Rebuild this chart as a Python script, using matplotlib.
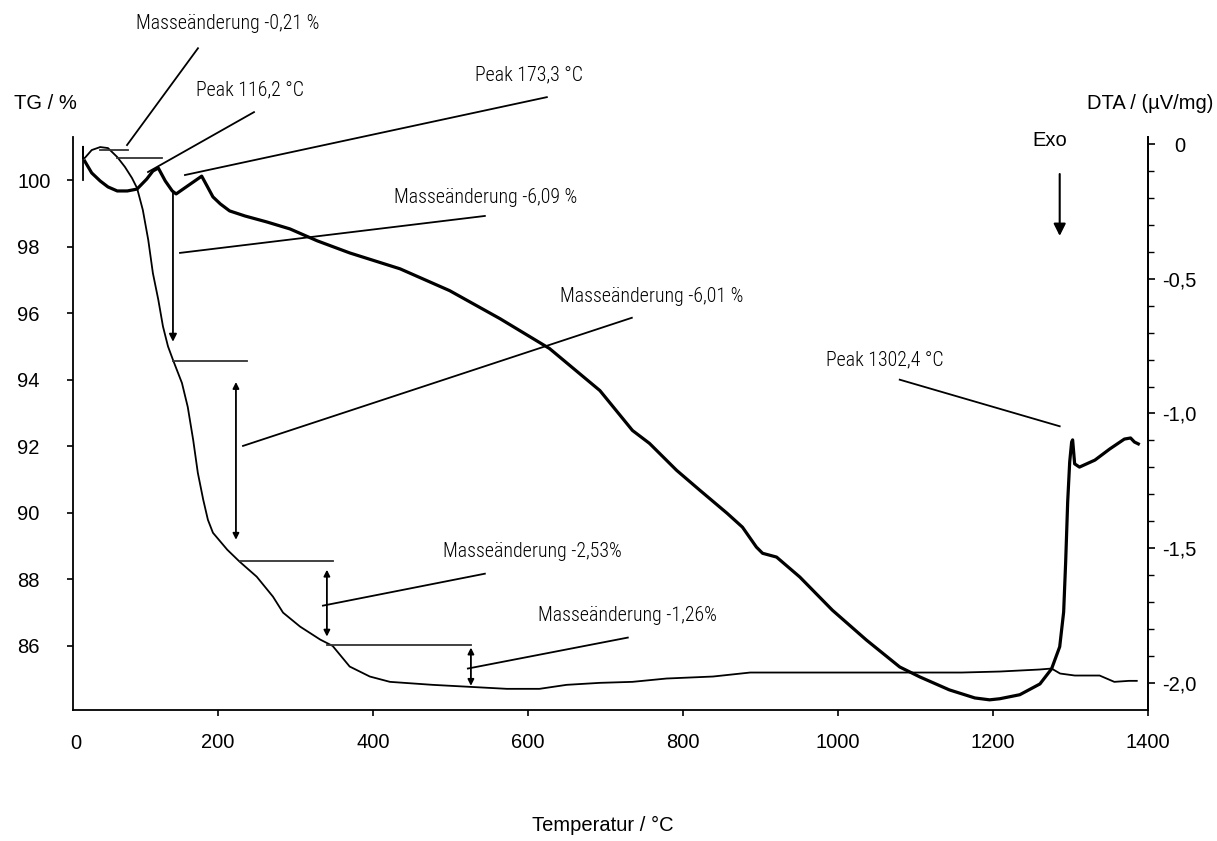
"""TG / DTA curve with mass-change annotations"""

import matplotlib
matplotlib.use("Agg")
import matplotlib.pyplot as plt
from matplotlib import font_manager

plt.rcParams["font.family"] = ["Liberation Sans", "DejaVu Sans"]

# narrow font for the annotation texts, first one that is installed
names = {f.name for f in font_manager.fontManager.ttflist}
NARROW = dict(family=["DejaVu Sans"], stretch="condensed")
for cand in ["Liberation Sans Narrow", "Roboto Condensed", "Arial Narrow",
             "Noto Sans Condensed", "Open Sans Condensed"]:
    if cand in names:
        NARROW = dict(family=[cand, "DejaVu Sans"], weight="light")
        break

# TG curve (temperature in degC, mass in %)
tg_temp = [25.8, 25.8, 25.8, 28, 37, 48, 58, 70, 80, 89, 95.5, 103, 110, 116,
           123, 129, 135.5, 142, 153.5, 161, 168, 174, 181, 187, 193.5, 212,
           228, 250, 271, 284, 306, 332, 348, 370, 396, 422, 477, 525, 573,
           615, 650, 693, 735, 779, 839, 887, 1000, 1100, 1160, 1209, 1260,
           1276, 1287, 1306, 1338, 1357, 1376, 1386]
tg_mass = [100.0, 101.0, 100.66, 100.66, 100.9, 100.99, 100.96, 100.69, 100.39,
           100.06, 99.76, 99.1, 98.2, 97.2, 96.4, 95.6, 95.0, 94.59, 93.9, 93.18,
           92.19, 91.2, 90.39, 89.79, 89.4, 88.89, 88.53, 88.08, 87.48, 87.0,
           86.58, 86.19, 86.0, 85.38, 85.08, 84.92, 84.83, 84.77, 84.71, 84.71,
           84.83, 84.89, 84.92, 85.02, 85.08, 85.2, 85.2, 85.2, 85.2, 85.23,
           85.29, 85.32, 85.17, 85.11, 85.11, 84.92, 84.95, 84.95]

# DTA curve (uV/mg)
dta_temp = [28, 37, 48, 58, 70, 83, 95.5, 108, 116, 123, 132, 141, 146, 157,
            170, 179, 186, 193.5, 203, 215, 235, 263, 293, 328, 370, 435, 499,
            564, 628, 693, 735, 757, 792, 822, 857, 877, 895, 903, 921, 951,
            993, 1037, 1080, 1106, 1144, 1177, 1196, 1209, 1235, 1261, 1276,
            1286.5, 1291.6, 1294.2, 1296.8, 1299.4, 1301.9, 1303.2, 1305.8,
            1312, 1332, 1351, 1370, 1378, 1383, 1388]
dta_val = [-0.063, -0.107, -0.137, -0.159, -0.174, -0.174, -0.167, -0.13, -0.1,
           -0.089, -0.137, -0.174, -0.185, -0.163, -0.137, -0.119, -0.156,
           -0.196, -0.222, -0.248, -0.267, -0.289, -0.315, -0.359, -0.404,
           -0.463, -0.544, -0.648, -0.759, -0.915, -1.063, -1.111, -1.211,
           -1.285, -1.37, -1.422, -1.496, -1.519, -1.533, -1.607, -1.73, -1.841,
           -1.941, -1.978, -2.026, -2.056, -2.063, -2.059, -2.044, -2.004,
           -1.948, -1.866, -1.737, -1.551, -1.328, -1.18, -1.106, -1.098,
           -1.187, -1.199, -1.173, -1.132, -1.095, -1.091, -1.106, -1.113]

# reference levels of the mass steps (TG %)
step_levels = [100.66, 94.56, 88.56, 86.04, 84.77]
step_labels = ["Masseänderung -0,21 %", "Masseänderung -6,09 %",
               "Masseänderung -6,01 %", "Masseänderung -2,53%",
               "Masseänderung -1,26%"]
peak_labels = ["Peak 116,2 °C", "Peak 173,3 °C", "Peak 1302,4 °C"]

x_ticks = [200, 400, 600, 800, 1000, 1200, 1400]
tg_ticks = [86, 88, 90, 92, 94, 96, 98, 100]
dta_ticks = [0, -0.5, -1.0, -1.5, -2.0]
dta_ticklabels = ["0", "-0,5", "-1,0", "-1,5", "-2,0"]

fig = plt.figure(figsize=(12.17, 8.41), dpi=100)
ax = fig.add_axes([0.060, 0.156, 0.883, 0.681])
ax2 = ax.twinx()

# size the narrow annotation font so the labels get about their original width
probe = fig.text(0, 0, step_labels[0], fontsize=14, **NARROW)
probe_w = probe.get_window_extent(fig.canvas.get_renderer()).width
probe.remove()
ann_size = min(15.0, 14 * 184 / probe_w)

ax.plot(tg_temp, tg_mass, color="black", lw=1.3)
ax2.plot(dta_temp, dta_val, color="black", lw=2.3)

ax.set_xlim(12.9, 1400)
ax.set_ylim(84.08, 101.29)
ax2.set_ylim(-2.1, 0.026)

for a in (ax, ax2):
    a.spines["top"].set_visible(False)
    a.spines["left"].set_linewidth(1.3)
    a.spines["right"].set_linewidth(1.3)
    a.spines["bottom"].set_linewidth(1.3)
ax2.spines["left"].set_visible(False)
ax2.spines["bottom"].set_visible(False)

ax.set_xticks(x_ticks)
ax.set_xticklabels([str(v) for v in x_ticks])
ax.set_yticks(tg_ticks)
ax.set_yticklabels([str(v) for v in tg_ticks])
ax2.set_yticks(dta_ticks)
ax2.set_yticklabels(dta_ticklabels)
ax2.set_yticks([-0.1, -0.2, -0.3, -0.4, -0.6, -0.7, -0.8, -0.9, -1.1, -1.2,
                -1.3, -1.4, -1.6, -1.7, -1.8, -1.9], minor=True)

ax.tick_params(axis="x", direction="out", length=4, width=1.2, pad=13,
               labelsize=14.5)
ax.tick_params(axis="y", direction="out", length=4, width=1.2, pad=36,
               labelsize=14.5)
for lab in ax.get_yticklabels():
    lab.set_horizontalalignment("left")
ax2.tick_params(axis="y", which="major", direction="out", length=5, width=1.2,
                pad=18, labelsize=14.5)
ax2.tick_params(axis="y", which="minor", direction="out", length=4, width=1.0)
for lab in ax2.get_yticklabels():
    lab.set_horizontalalignment("center")

# "0" of the temperature axis sits left of the axis start
ax.text(0.003, -0.043, "0", transform=ax.transAxes, ha="center", va="top",
        fontsize=14.5)

fig.text(0.037, 0.877, "TG / %", ha="center", va="center", fontsize=14.5)
fig.text(0.997, 0.877, "DTA / (µV/mg)", ha="right", va="center",
         fontsize=14.5)
fig.text(0.495, 0.019, "Temperatur / °C", ha="center", va="center",
         fontsize=14.5)

line_kw = dict(color="black", lw=1.3, clip_on=False)
thin_kw = dict(color="#333333", lw=1.3, clip_on=False)

# reference levels of the mass steps
ax.plot([47.7, 83.9], [100.9, 100.9], **thin_kw)
ax.plot([69.7, 127.7], [step_levels[0], step_levels[0]], **thin_kw)
ax.plot([141.9, 237.4], [step_levels[1], step_levels[1]], **thin_kw)
ax.plot([228.4, 348.4], [step_levels[2], step_levels[2]], **thin_kw)
ax.plot([340.6, 526.5], [step_levels[3], step_levels[3]], **thin_kw)

# arrows for the mass steps
ax.annotate("", xy=(141.9, 95.14), xytext=(141.9, 99.61),
            arrowprops=dict(arrowstyle="-|>", color="black", lw=1.3,
                            mutation_scale=11, shrinkA=0, shrinkB=0))
for x, top, bottom in [(223.2, 93.93, 89.19), (340.6, 88.29, 86.28),
                       (526.5, 85.95, 84.80)]:
    ax.annotate("", xy=(x, bottom), xytext=(x, top),
                arrowprops=dict(arrowstyle="<|-|>", color="black", lw=1.3,
                                mutation_scale=9, shrinkA=0, shrinkB=0))

# leader lines
ax.plot([82.6, 174.2], [101.05, 103.96], **line_kw)
ax.plot([109.7, 246.5], [100.24, 102.04], **line_kw)
ax.plot([157.4, 624.5], [100.15, 102.49], **line_kw)
ax.plot([151.0, 544.5], [97.81, 98.92], **line_kw)
ax.plot([232.3, 734.2], [92.01, 95.86], **line_kw)
ax.plot([335.5, 544.5], [87.21, 88.17], **line_kw)
ax.plot([522.6, 729.0], [85.32, 86.25], **line_kw)
ax.plot([1080.0, 1286.5], [94.0, 92.6], **line_kw)

# labels
txt_kw = dict(ha="center", va="center", fontsize=ann_size, **NARROW)
ax.text(212.9, 104.71, step_labels[0], **txt_kw)
ax.text(241.3, 102.70, peak_labels[0], **txt_kw)
ax.text(601.3, 103.15, peak_labels[1], **txt_kw)
ax.text(545.8, 99.46, step_labels[1], **txt_kw)
ax.text(760.0, 96.49, step_labels[2], **txt_kw)
ax.text(605.2, 88.83, step_labels[3], **txt_kw)
ax.text(729.0, 86.91, step_labels[4], **txt_kw)
ax.text(1060.6, 94.59, peak_labels[2], **txt_kw)

# exo direction
ax.text(1273.5, 101.2, "Exo", ha="center", va="center", fontsize=14.5)
ax.annotate("", xy=(1286.5, 98.32), xytext=(1286.5, 100.18),
            arrowprops=dict(arrowstyle="-|>", color="black", lw=1.5,
                            mutation_scale=18, shrinkA=0, shrinkB=0))

fig.savefig("out.png", dpi=100)
